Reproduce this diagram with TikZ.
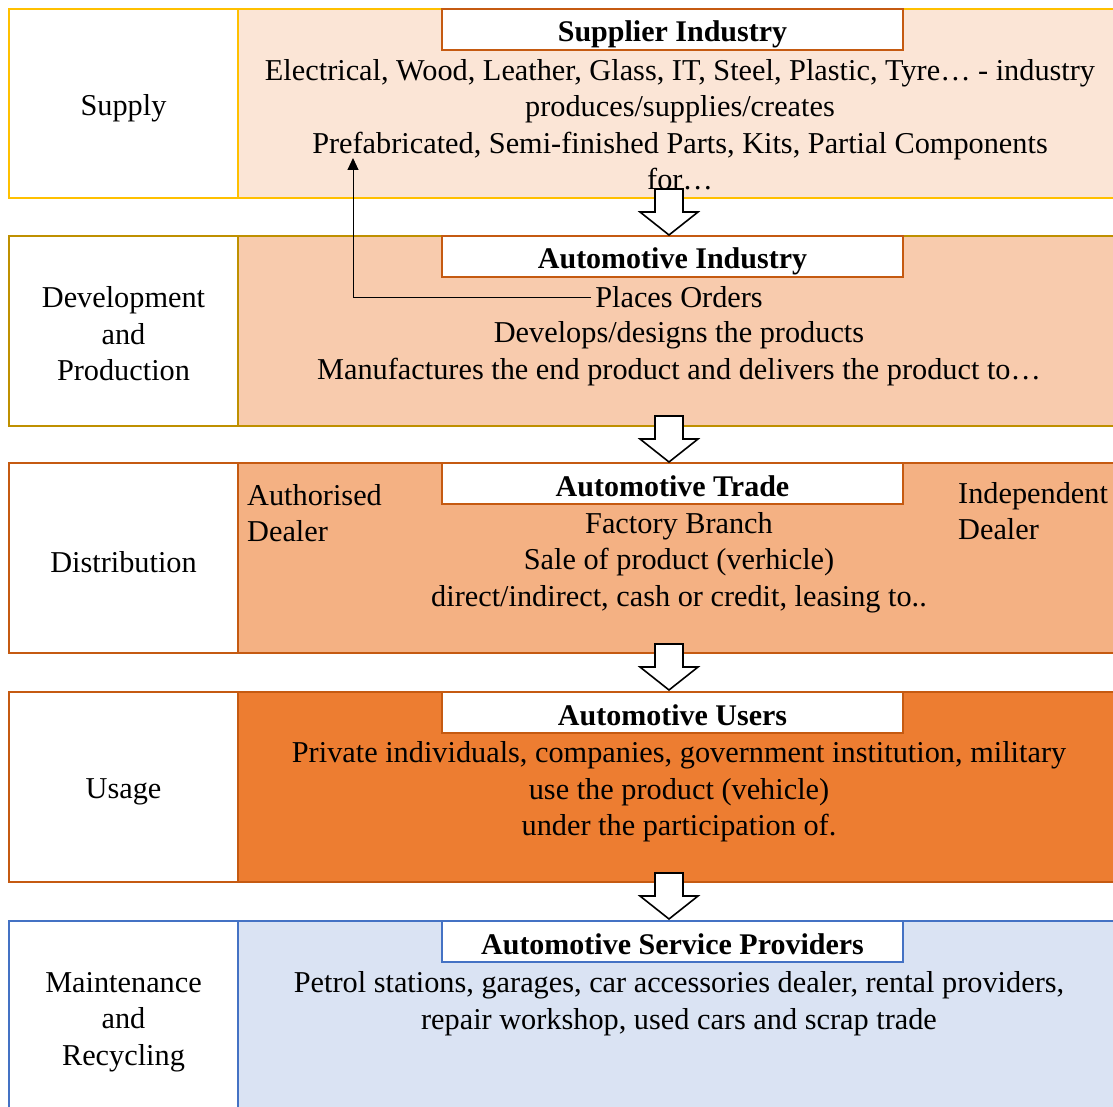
\documentclass[tikz,border=0pt]{standalone}
\usepackage{fontspec}
\setmainfont{Liberation Serif}
\usetikzlibrary{arrows.meta}
\definecolor{cYel}{HTML}{FFC000}
\definecolor{cGold}{HTML}{BF9000}
\definecolor{cOrD}{HTML}{C55A11}
\definecolor{cBlue}{HTML}{4472C4}
\definecolor{fA}{HTML}{FBE5D6}
\definecolor{fB}{HTML}{F8CBAD}
\definecolor{fC}{HTML}{F4B183}
\definecolor{fD}{HTML}{ED7D31}
\definecolor{fE}{HTML}{DAE3F3}
\begin{document}
\begin{tikzpicture}[x=1pt,y=-1pt,
  txt/.style={font=\fontsize{30.3}{36.5}\selectfont, align=center, inner sep=0pt},
  lbl/.style={txt},
  titlebox/.style={draw=#1, line width=2pt, fill=white, minimum width=461pt, minimum height=41pt, inner sep=0pt, text height=25pt, text depth=0pt, font=\fontsize{30}{36}\selectfont\bfseries},
  rowline/.style={line width=2pt},
  barrow/.pic={\draw[fill=white, line width=1.6pt, line join=miter] (-14,0) -- (14,0) -- (14,23) -- (29,23) -- (0,46) -- (-29,23) -- (-14,23) -- cycle;}
]
\useasboundingbox (0,0) rectangle (1113,1107);
\clip (0,0) rectangle (1113,1107);
% row backgrounds
\draw[rowline, draw=cYel, fill=fA] (238,9) rectangle (1116,198);
\draw[rowline, draw=cYel, fill=white] (9,9) rectangle (238,198);
\draw[rowline, draw=cGold, fill=fB] (238,236) rectangle (1116,426);
\draw[rowline, draw=cGold, fill=white] (9,236) rectangle (238,426);
\draw[rowline, draw=cOrD, fill=fC] (238,463) rectangle (1116,653);
\draw[rowline, draw=cOrD, fill=white] (9,463) rectangle (238,653);
\draw[rowline, draw=cOrD, fill=fD] (238,692) rectangle (1116,882);
\draw[rowline, draw=cOrD, fill=white] (9,692) rectangle (238,882);
\draw[rowline, draw=cBlue, fill=fE] (238,921) rectangle (1116,1140);
\draw[rowline, draw=cBlue, fill=white] (9,921) rectangle (238,1140);
% left labels
\node[lbl] (lSupply) at (123.5,108) {Supply};
\node[lbl] (lDev) at (123.5,334) {Development\\and\\Production};
\node[lbl] (lDist) at (123.5,562) {Distribution};
\node[lbl] (lUse) at (123.5,792) {Usage};
\node[lbl] (lMaint) at (123.5,1022) {Maintenance\\and\\Recycling};
% title boxes
\node[titlebox=cOrD] (tSup) at (672.5,29.5) {Supplier Industry};
\node[titlebox=cOrD] (tAuto) at (672.5,256.5) {Automotive Industry};
\node[titlebox=cOrD] (tTrade) at (672.5,483.5) {Automotive Trade};
\node[titlebox=cOrD] (tUsers) at (672.5,712.5) {Automotive Users};
\node[titlebox=cBlue] (tServ) at (672.5,941.5) {Automotive Service Providers};
% row texts
\node[txt] (xSup) at (680,124.5) {Electrical, Wood, Leather, Glass, IT, Steel, Plastic, Tyre… - industry\\produces/supplies/creates\\Prefabricated, Semi-finished Parts, Kits, Partial Components\\for…};
\node[txt] (porders) at (679,297) {Places Orders};
\node[txt] (xAuto) at (679,353.5) {Develops/designs the products\\Manufactures the end product and delivers the product to…};
\node[txt] (xTrade) at (679,562.5) {Factory Branch\\Sale of product (verhicle)\\direct/indirect, cash or credit, leasing to..};
\node[txt, align=left, anchor=west] (xAuth) at (247,513) {Authorised\\Dealer};
\node[txt, align=left, anchor=west] (xIndep) at (958,511) {Independent\\Dealer};
\node[txt] (xUsers) at (679,792) {Private individuals, companies, government institution, military\\use the product (vehicle)\\under the participation of.};
\node[txt] (xServ) at (679,1003.5) {Petrol stations, garages, car accessories dealer, rental providers,\\repair workshop, used cars and scrap trade};
% order arrow
\coordinate (ordTip) at (353,158);
\draw[line width=1pt, -{Triangle[length=12pt,width=11pt]}] ([xshift=-4pt]porders.west) -| (ordTip);
% block arrows
\pic at (669,189) {barrow};
\pic at (669,416) {barrow};
\pic at (669,644) {barrow};
\pic at (669,873) {barrow};
\end{tikzpicture}
\end{document}
